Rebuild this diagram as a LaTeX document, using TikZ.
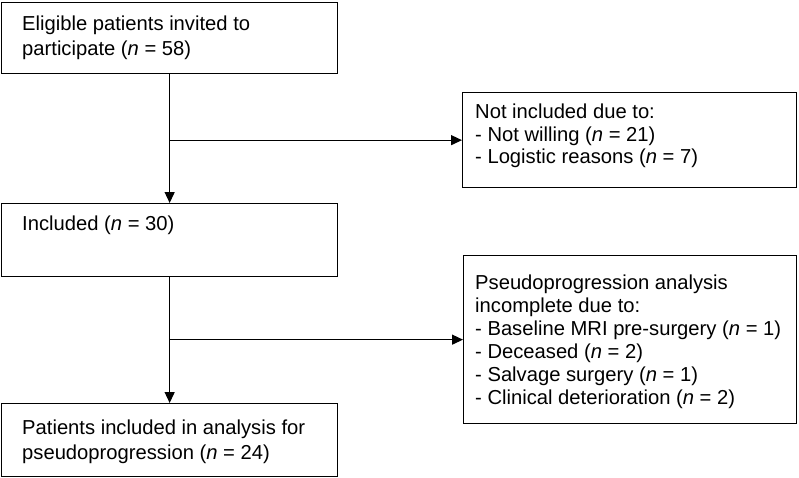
\documentclass[tikz,border=0pt]{standalone}
\usepackage{fontspec}
\setmainfont{Liberation Sans}
\usetikzlibrary{arrows.meta}
\begin{document}
\begin{tikzpicture}[x=1pt,y=-1pt,
  box/.style={draw, line width=1.3pt, inner sep=0pt, anchor=north west},
  ln/.style={anchor=base west, inner sep=0pt, font=\fontsize{20.2}{24}\selectfont},
  arr/.style={line width=1.3pt, -{Triangle[length=11pt,width=10pt]}}]
\useasboundingbox (0,0) rectangle (799,477);
% boxes
\node[box, minimum width=336pt, minimum height=71pt] (b1) at (1,2) {};
\node[box, minimum width=334pt, minimum height=95pt] (b2) at (462,92) {};
\node[box, minimum width=336pt, minimum height=73pt] (b3) at (1,203) {};
\node[box, minimum width=333pt, minimum height=168pt] (b4) at (463,255) {};
\node[box, minimum width=336pt, minimum height=73pt] (b5) at (1,403) {};
% texts
\node[ln] (t11) at (22,30) {Eligible patients invited to};
\node[ln] (t12) at (22,55) {participate (\textit{n} = 58)};
\node[ln] (t21) at (475,118) {Not included due to:};
\node[ln] (t22) at (475,141) {- Not willing (\textit{n} = 21)};
\node[ln] (t23) at (475,163) {- Logistic reasons (\textit{n} = 7)};
\node[ln] (t31) at (22,230) {Included (\textit{n} = 30)};
\node[ln] (t41) at (475,289) {Pseudoprogression analysis};
\node[ln] (t42) at (475,312) {incomplete due to:};
\node[ln] (t43) at (475,335) {- Baseline MRI pre-surgery (\textit{n} = 1)};
\node[ln] (t44) at (475,358) {- Deceased (\textit{n} = 2)};
\node[ln] (t45) at (475,381) {- Salvage surgery (\textit{n} = 1)};
\node[ln] (t46) at (475,404) {- Clinical deterioration (\textit{n} = 2)};
\node[ln] (t51) at (22,434) {Patients included in analysis for};
\node[ln] (t52) at (22,459) {pseudoprogression (\textit{n} = 24)};
% connectors
\coordinate (j1) at (b1.south |- b2.west);
\coordinate (j2) at (b3.south |- b4.west);
\draw[arr] (b1.south) -- (b3.north);
\draw[arr] (j1) -- (b2.west);
\draw[arr] (b3.south) -- (b5.north);
\draw[arr] (j2) -- (b4.west);
\end{tikzpicture}
\end{document}
